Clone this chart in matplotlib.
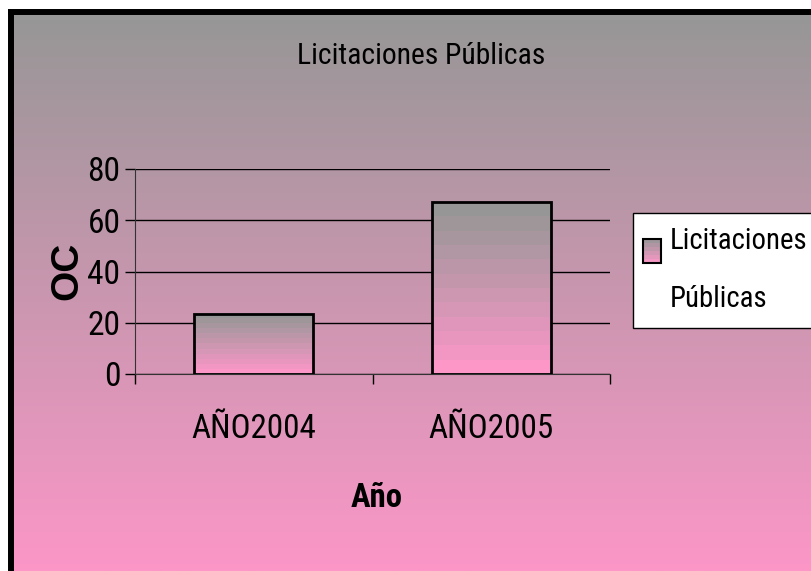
import numpy as np
import matplotlib
matplotlib.use("Agg")
import matplotlib.pyplot as plt
from matplotlib.patches import Rectangle
from matplotlib.legend_handler import HandlerBase
from matplotlib.colors import LinearSegmentedColormap
from matplotlib import font_manager
from matplotlib.font_manager import FontProperties

categories = ["AÑO2004", "AÑO2005"]
values = [23.5, 67.0]
series_name = "Licitaciones\nPúblicas"
title = "Licitaciones Públicas"
yticks = [0, 20, 40, 60, 80]

# look for a narrow font (reference uses a condensed sans-serif)
def is_bold(f):
    w = f.weight
    if isinstance(w, str):
        return w.lower() in ("bold", "heavy", "black", "extra bold", "semibold")
    return w >= 600

def find_narrow(bold):
    cands = []
    for f in font_manager.fontManager.ttflist:
        nm = f.name.lower()
        st = str(f.stretch).lower()
        if f.style != "normal" or is_bold(f) != bold:
            continue
        if not bold and not (f.weight in (400, "normal", "regular")):
            continue
        if bold and not (f.weight in (700, "bold")):
            continue
        if "narrow" in nm or "condensed" in nm or st in ("condensed", "semi-condensed", "narrow"):
            cands.append(f)
    pref = ["liberation sans narrow", "arial narrow", "roboto condensed", "open sans condensed", "dejavu sans"]
    for p in pref:
        for f in cands:
            if f.name.lower().startswith(p):
                return f.fname
    return cands[0].fname if cands else None

narrow = find_narrow(False)
narrow_b = find_narrow(True)

def fp(size, bold=False, condensed=True):
    if condensed:
        if bold and narrow_b:
            return FontProperties(fname=narrow_b, size=size)
        if not bold and narrow:
            return FontProperties(fname=narrow, size=size)
    return FontProperties(family=["Liberation Sans", "DejaVu Sans"], size=size,
                          weight="bold" if bold else "normal")

top_col = "#969696"
bot_col = "#FC97C8"
cmap = LinearSegmentedColormap.from_list("g", [bot_col, top_col])

fig = plt.figure(figsize=(8.11, 5.71), dpi=100)
fig.patch.set_facecolor("white")

bg = fig.add_axes([0, 0, 1, 1], zorder=-5)
grad = np.linspace(1, 0, 256).reshape(-1, 1)
bg.imshow(grad, cmap=cmap, extent=[11, 811, 571, 12], aspect="auto", vmin=0, vmax=1)
bg.plot([11, 11], [571, 12], color="black", lw=4.3, solid_capstyle="butt")
bg.plot([8, 811], [12, 12], color="black", lw=4.3, solid_capstyle="butt")
bg.set_xlim(0, 811); bg.set_ylim(571, 0)
bg.axis("off")

ax = fig.add_axes([135/811, 1-374/571, (610-135)/811, (374-169)/571])
ax.set_facecolor("none")
x = np.arange(len(categories))
bars = ax.bar(x, values, width=0.5, facecolor="none", edgecolor="black", linewidth=2, zorder=3)
for b in bars:
    bx, by = b.get_x(), b.get_y()
    w, h = b.get_width(), b.get_height()
    ax.imshow(np.linspace(1, 0, 12).reshape(-1, 1), cmap=cmap, extent=[bx, bx + w, by, by + h],
              aspect="auto", vmin=0, vmax=1, zorder=2, interpolation="nearest")
ax.set_xlim(-0.5, 1.5)
ax.set_ylim(0, 80)
ax.set_aspect("auto")

ax.set_yticks(yticks)
ax.set_yticklabels([str(v) for v in yticks])
ax.set_xticks([-0.5, 0.5, 1.5])
ax.set_xticklabels([])
ax.set_xticks(x, minor=True)
ax.set_xticklabels(categories, minor=True)
ax.tick_params(axis="x", which="minor", length=0, pad=28)
ax.tick_params(axis="x", which="major", length=7, width=1)
ax.tick_params(axis="y", length=7, width=1, pad=3.5)
ax.grid(axis="y", color="black", linewidth=1, zorder=1)
ax.spines["top"].set_visible(False)
ax.spines["right"].set_visible(False)
ax.spines["left"].set_color("#333333")
ax.spines["bottom"].set_color("#333333")

oc = fig.text(67/811, 1-271/571, "OC", rotation=90, ha="center", va="center",
              fontproperties=fp(28, bold=True, condensed=False))
ano = fig.text(377/811, 1-498/571, "Año", ha="center", va="center", fontproperties=fp(20, bold=True))
ttl = fig.text(421/811, 1-56/571, title, ha="center", va="center", fontproperties=fp(20))

class GradHandler(HandlerBase):
    def create_artists(self, legend, orig_handle, xdescent, ydescent, width, height, fontsize, trans):
        arts = []
        n = 6
        x0 = -xdescent - 2.9
        y0 = -ydescent + 14.4
        for i in range(n):
            c = cmap(1 - (i + 0.5) / n)
            arts.append(Rectangle((x0, y0 + height * (n - 1 - i) / n), width, height / n, facecolor=c,
                                  edgecolor="none", transform=trans))
        arts.append(Rectangle((x0, y0), width, height, facecolor="none", edgecolor="black", lw=1.5,
                              transform=trans))
        return arts

renderer = fig.canvas.get_renderer()

def fit(textobj, target_w, maxsize, bold=False, condensed=True):
    size = 20.0
    for _ in range(3):
        textobj.set_fontproperties(fp(size, bold, condensed))
        bb = textobj.get_window_extent(renderer)
        size = min(maxsize, size * target_w / max(bb.width, 1))
    textobj.set_fontproperties(fp(size, bold, condensed))
    return size

fit(ttl, 248, 26)
fit(ano, 52, 26, bold=True)
for t in ax.get_xticklabels(minor=True):
    fit(t, 125, 26)
ys = 20
for t in ax.get_yticklabels():
    if t.get_text() == "80":
        ys = fit(t, 33, 26)
for t in ax.get_yticklabels():
    t.set_fontproperties(fp(ys))

probe = fig.text(0, 0, "Licitaciones", fontproperties=fp(20))
ls = fit(probe, 137, 26)
probe.remove()

h = Rectangle((0, 0), 1, 1)
def make_legend(spacing):
    lg = fig.legend([h], [series_name], loc="upper left", bbox_to_anchor=(633/811, 1-213/571),
                    prop=fp(ls), handler_map={Rectangle: GradHandler()}, fancybox=False,
                    framealpha=1, edgecolor="black", handlelength=0.6, handleheight=0.9,
                    handletextpad=0.25 - 1.4 / ls, borderpad=0.5, borderaxespad=0)
    lg.get_frame().set_linewidth(1)
    for t in lg.get_texts():
        t.set_linespacing(spacing)
    return lg

sp = 1.2
leg = make_legend(sp)
for _ in range(4):
    hh = leg.get_window_extent(renderer).height
    leg.remove()
    sp = sp * (1 + (115 - hh) / max(hh, 1) * 1.6)
    sp = max(1.0, min(sp, 2.5))
    leg = make_legend(sp)

fig.savefig("out.png", dpi=100)
